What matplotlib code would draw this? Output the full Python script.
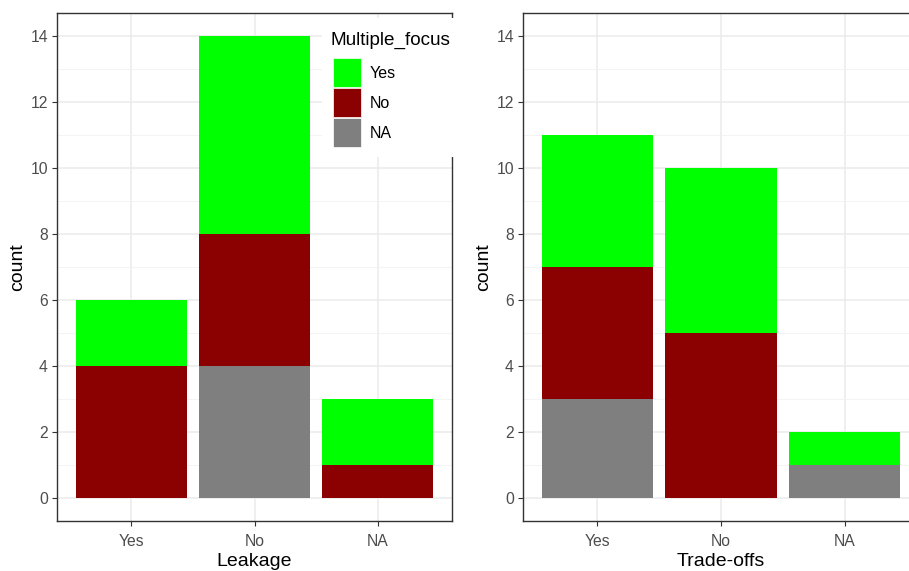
import matplotlib
matplotlib.use("Agg")
from matplotlib import pyplot as plt
from matplotlib.patches import Rectangle
import numpy as np

plt.rcParams['font.family'] = ['Liberation Sans', 'DejaVu Sans']

categories = ["Yes", "No", "NA"]
focus_levels = ["Yes", "No", "NA"]
colors = {"Yes": "#00FF00", "No": "#8B0000", "NA": "#7F7F7F"}

# counts of Multiple_focus within each category
leak_yes = [2, 6, 2]
leak_no = [4, 4, 1]
leak_na = [0, 4, 0]

trade_yes = [4, 5, 1]
trade_no = [4, 5, 0]
trade_na = [3, 0, 1]

W, H = 909, 571
fig = plt.figure(figsize=(W / 100, H / 100), dpi=100)

def px_axes(x0, y0, x1, y1):
    return fig.add_axes([x0 / W, 1 - y1 / H, (x1 - x0) / W, (y1 - y0) / H])

def fx(x):
    return x / W

def fy(y):
    return 1 - y / H

ax1 = px_axes(57, 13, 452, 521)
ax2 = px_axes(523, 13, 919, 521)

def draw(ax, yes, no, na, xlabel):
    x = np.arange(1, len(categories) + 1)
    na = np.array(na)
    no = np.array(no)
    yes = np.array(yes)
    ax.bar(x, na, width=0.9, color=colors["NA"], zorder=2)
    ax.bar(x, no, width=0.9, bottom=na, color=colors["No"], zorder=2)
    ax.bar(x, yes, width=0.9, bottom=na + no, color=colors["Yes"], zorder=2)
    ax.set_xlim(0.4, 3.6)
    ax.set_ylim(-0.7, 14.7)
    ax.set_xticks(x)
    ax.set_xticklabels(categories)
    ax.set_yticks(range(0, 15, 2))
    ax.set_yticks(range(1, 15, 2), minor=True)
    ax.grid(True, which="major", color="#EBEBEB", linewidth=1.1, zorder=0)
    ax.grid(True, which="minor", axis="y", color="#F2F2F2", linewidth=0.6, zorder=0)
    ax.set_axisbelow(True)
    ax.tick_params(which="major", colors="#333333", length=3.5, width=0.8,
                   labelcolor="#4D4D4D", labelsize=11.3, pad=3)
    ax.tick_params(axis="x", which="major", pad=6)
    ax.tick_params(which="minor", length=0)
    for s in ax.spines.values():
        s.set_color("#333333")
        s.set_linewidth(1.0)
    ax.set_xlabel(xlabel, fontsize=14, labelpad=3)
    ax.set_ylabel("count", fontsize=14, labelpad=3)

draw(ax1, leak_yes, leak_no, leak_na, "Leakage")
draw(ax2, trade_yes, trade_no, trade_na, "Trade-offs")

# legend drawn over the left panel, as in the original
fig.add_artist(Rectangle((fx(322), fy(157)), fx(456) - fx(322), fy(18) - fy(157),
                         transform=fig.transFigure, facecolor="white",
                         edgecolor="none", zorder=10))
fig.text(fx(331), fy(40), "Multiple_focus", fontsize=13.6, va="center",
         ha="left", zorder=11)
for i, k in enumerate(focus_levels):
    top = 58 + i * 30
    fig.add_artist(Rectangle((fx(333), fy(top + 29)), fx(361) - fx(333),
                             fy(top) - fy(top + 29), transform=fig.transFigure,
                             facecolor=colors[k], edgecolor="white",
                             linewidth=0.5, zorder=11))
    fig.text(fx(370), fy(top + 15), k, fontsize=11.5, va="center", ha="left",
             zorder=11)

fig.savefig("out.png", dpi=100)
